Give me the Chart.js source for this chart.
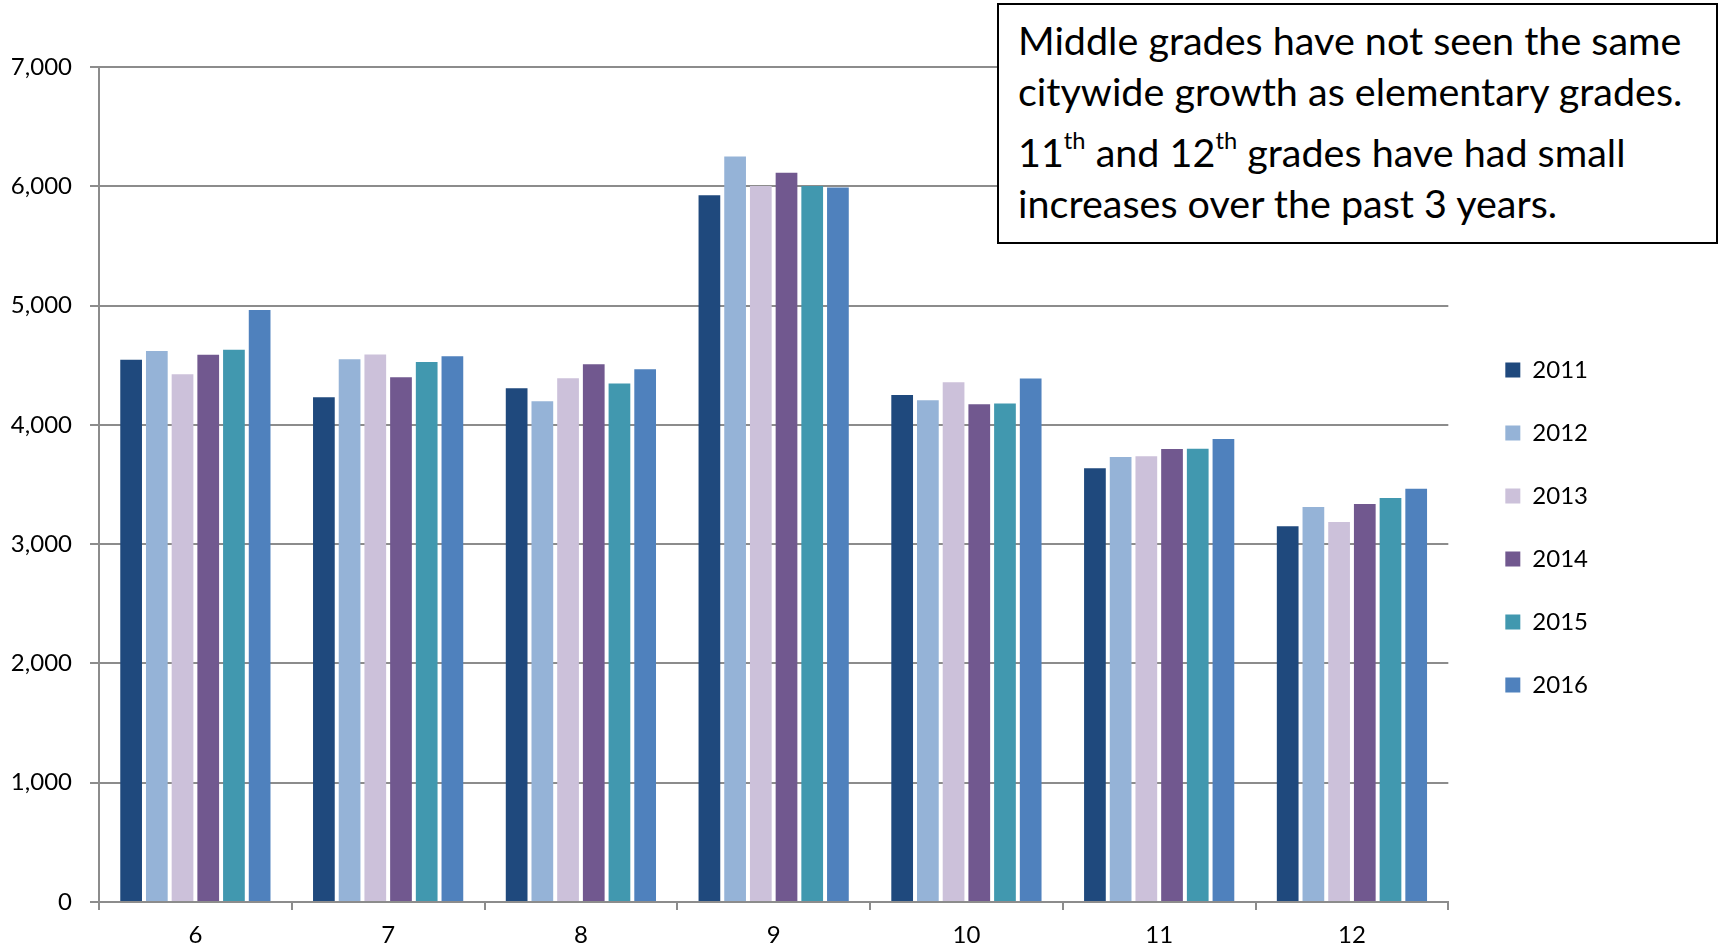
<!DOCTYPE html>
<html>
<head>
<meta charset="utf-8">
<script src="https://cdn.jsdelivr.net/npm/chart.js@4.4.1/dist/chart.umd.min.js"></script>
<style>
    body { margin: 0; background: #fff; }
    #wrap { position: relative; width: 1721px; height: 948px; }
    #note {
        position: absolute; left: 997px; top: 3px; width: 717px; height: 237px;
        border: 2px solid #000; background: #fff;
        font-family: Lato, 'Open Sans', sans-serif; color: #000;
        font-size: 39.5px; line-height: 51px; white-space: nowrap;
    }
    #note p { margin: 0; padding-left: 19px; }
    #note p.first { margin-top: 9px; }
    #note p.second { margin-top: 10px; }
    #note sup { font-size: 0.6em; line-height: 0; vertical-align: 0.75em; }
</style>
</head>
<body>
<div id="wrap">
    <canvas id="gradeChart"></canvas>
    <div id="note">
        <p class="first">Middle grades have not seen the same<br>citywide growth as elementary grades.</p>
        <p class="second">11<sup>th</sup> and 12<sup>th</sup> grades have had small<br>increases over the past 3 years.</p>
    </div>
</div>
<script>
const grades = ['6', '7', '8', '9', '10', '11', '12'];
const years = ['2011', '2012', '2013', '2014', '2015', '2016'];
const yearColors = ['#1f497d', '#95b3d7', '#ccc1da', '#71588f', '#4198af', '#4f81bd'];

const v2011 = [4545, 4232, 4307, 5925, 4251, 3636, 3149];
const v2012 = [4620, 4551, 4198, 6250, 4206, 3731, 3311];
const v2013 = [4425, 4590, 4391, 6003, 4358, 3736, 3185];
const v2014 = [4587, 4400, 4509, 6113, 4173, 3798, 3336];
const v2015 = [4629, 4526, 4346, 6003, 4178, 3800, 3386];
const v2016 = [4962, 4576, 4467, 5990, 4388, 3882, 3465];

const yTicks = [0, 1000, 2000, 3000, 4000, 5000, 6000, 7000];

const allValues = [v2011, v2012, v2013, v2014, v2015, v2016];

// move the legend down/right a little, like the original
const legendShift = {
    id: 'legendShift',
    afterLayout(chart) {
        const lg = chart.legend;
        if (!lg) return;
        const dx = 18, dy = 20;
        lg.left += dx; lg.right += dx;
        lg.top += dy; lg.bottom += dy;
    }
};

let ctx = document.getElementById('gradeChart');
if (ctx) {
    ctx = ctx.getContext('2d');

    const gridColor = '#8c8c8c';

    new Chart(ctx, {
        type: 'bar',
        data: {
            labels: grades,
            datasets: years.map((y, i) => ({
                label: y,
                data: allValues[i],
                backgroundColor: yearColors[i],
                borderWidth: 0,
                categoryPercentage: 0.8,
                barPercentage: 0.845
            }))
        },
        options: {
            responsive: true,
            maintainAspectRatio: false,
            animation: false,
            layout: {
                padding: { left: 0, top: 67, right: 141, bottom: 0 }
            },
            scales: {
                x: {
                    afterFit: (scale) => { scale.height = 46; },
                    grid: {
                        offset: true,
                        drawOnChartArea: false,
                        drawTicks: true,
                        tickLength: 8,
                        color: gridColor,
                        lineWidth: 2
                    },
                    border: { color: gridColor, width: 2 },
                    ticks: {
                        color: '#000',
                        padding: 11,
                        font: { family: 'Lato', size: 24 }
                    }
                },
                y: {
                    min: 0,
                    max: 7000,
                    afterBuildTicks: (scale) => {
                        scale.ticks = yTicks.map(v => ({ value: v }));
                    },
                    afterFit: (scale) => { scale.width = 99; },
                    grid: {
                        color: gridColor,
                        lineWidth: 2,
                        tickLength: 9
                    },
                    border: { color: gridColor, width: 2 },
                    ticks: {
                        color: '#000',
                        padding: 18,
                        font: { family: 'Lato', size: 24 }
                    }
                }
            },
            plugins: {
                legend: {
                    position: 'right',
                    align: 'center',
                    labels: {
                        boxWidth: 15,
                        boxHeight: 15,
                        padding: 39,
                        color: '#000',
                        font: { family: 'Lato', size: 24 }
                    }
                },
                tooltip: { enabled: false }
            }
        },
        plugins: [legendShift]
    });
}
</script>
</body>
</html>
